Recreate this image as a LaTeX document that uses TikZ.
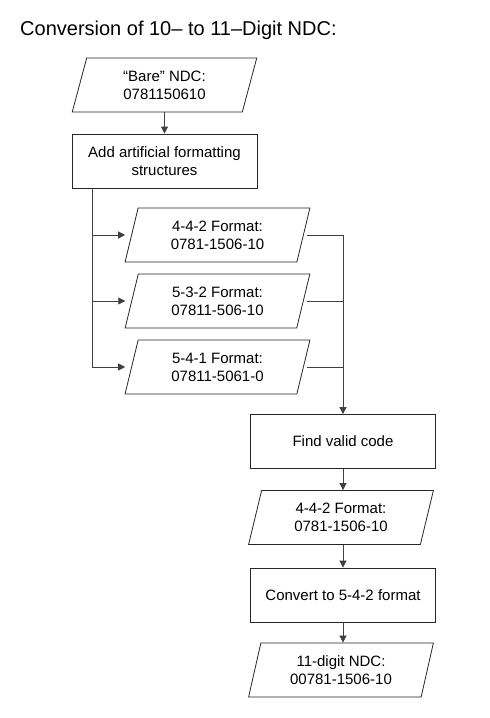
\documentclass[tikz,border=0pt]{standalone}
\usepackage{fontspec}
\setmainfont{Liberation Sans}
\usepackage{tikz}
\usetikzlibrary{shapes.geometric, arrows.meta}

\begin{document}
\begin{tikzpicture}[x=1pt, y=-1pt, >={Triangle[length=7pt,width=7pt]},
    datanode/.style={trapezium, trapezium left angle=75, trapezium right angle=105,
        trapezium stretches=true, draw=black!85, line width=0.8pt,
        minimum width=185pt, minimum height=54pt, inner sep=0pt,
        align=center, font=\fontsize{15}{18}\selectfont},
    procnode/.style={rectangle, draw=black!85, line width=0.8pt,
        minimum width=185pt, minimum height=54pt, inner sep=0pt,
        align=center, font=\fontsize{15}{18}\selectfont},
    link/.style={draw=black!75, line width=0.8pt}]
            \useasboundingbox (0,0) rectangle (490,718);

            % Title
            \node[anchor=base west, inner sep=0pt, font=\fontsize{20}{24}\selectfont] (title) at (20,35) {Conversion of 10– to 11–Digit NDC:};

            % Left column
            \node[datanode] (bare) at (164.5,85) {“Bare" NDC:\\0781150610};
            \node[procnode] (addfmt) at (164.5,161) {Add artificial formatting\\structures};

            % Candidate formats
            \node[datanode] (fmtA) at (217.5,235) {4-4-2 Format:\\0781-1506-10};
            \node[datanode] (fmtB) at (217.5,301) {5-3-2 Format:\\07811-506-10};
            \node[datanode] (fmtC) at (217.5,367) {5-4-1 Format:\\07811-5061-0};

            % Right column
            \node[procnode] (findcode) at (343,441.5) {Find valid code};
            \node[datanode] (validfmt) at (341,517.5) {4-4-2 Format:\\0781-1506-10};
            \node[procnode] (convert) at (343,595) {Convert to 5-4-2 format};
            \node[datanode] (ndcout) at (341,670) {11-digit NDC:\\00781-1506-10};

            % Connectors
            \draw[link, ->] (bare.south -| addfmt.north) -- (addfmt.north);
            \foreach \fmt in {fmtA, fmtB, fmtC}
                \draw[link, ->, shorten >=6pt] ([xshift=21pt]addfmt.south west) |- (\fmt.west);
            \draw[link, ->, shorten <=3pt] (fmtA.east) -| (findcode.north);
            \draw[link, shorten <=3pt] (fmtB.east) -- (fmtB.east -| findcode.north);
            \draw[link, shorten <=3pt] (fmtC.east) -- (fmtC.east -| findcode.north);
            \draw[link, ->] (findcode.south) -- (findcode.south |- validfmt.north);
            \draw[link, ->] (validfmt.south -| convert.north) -- (convert.north);
            \draw[link, ->] (convert.south) -- (convert.south |- ndcout.north);
        \end{tikzpicture}
\end{document}
